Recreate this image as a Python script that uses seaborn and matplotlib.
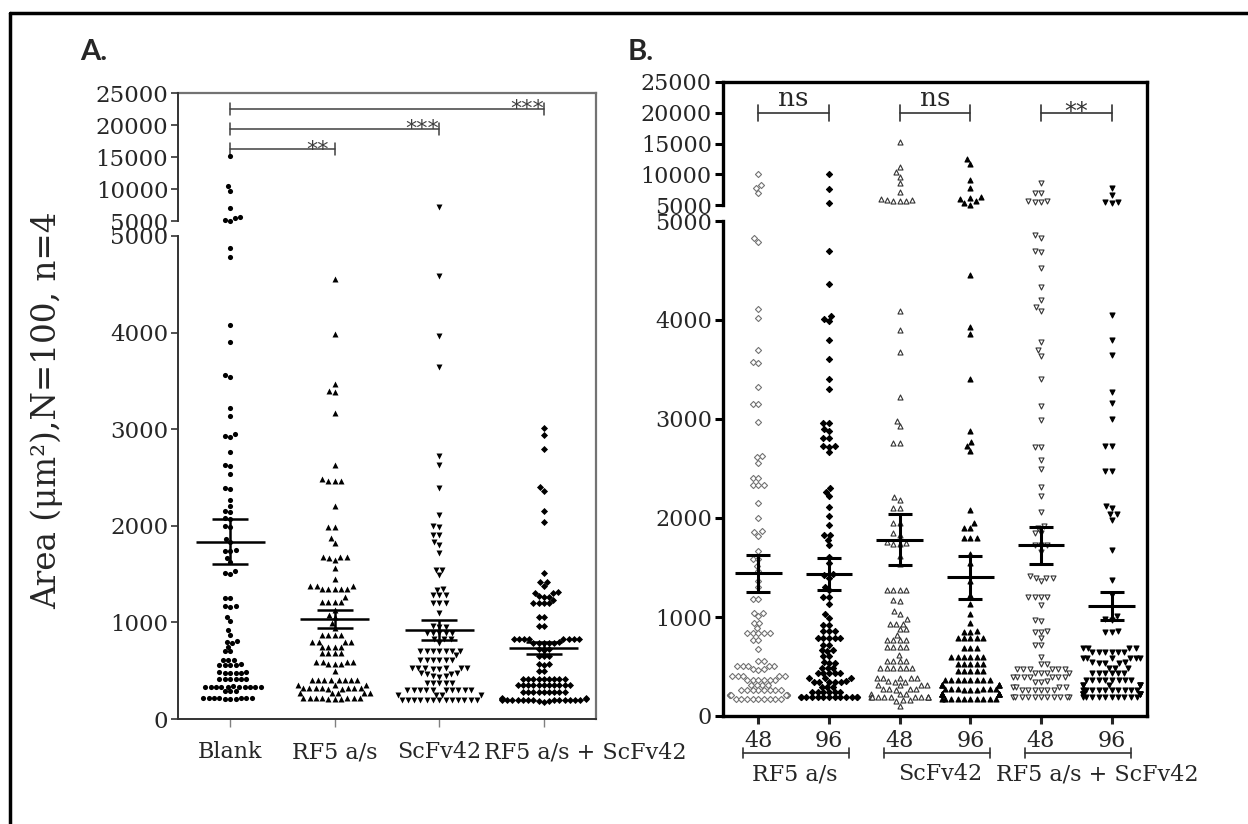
# Cell area scatter plots, panel A (treatments) and panel B (48 h vs 96 h)
import numpy as np
import pandas as pd
import matplotlib
matplotlib.use("Agg")
import matplotlib.pyplot as plt
import seaborn as sns
from matplotlib.lines import Line2D
from matplotlib.transforms import ScaledTranslation

sns.set_style("white")
plt.rcParams["font.family"] = ["DejaVu Serif", "Liberation Serif"]

# -------------------------------
# Panel A data
# -------------------------------
cats_a = ["Blank", "RF5 a/s", "ScFv42", "RF5 a/s + ScFv42"]

blank = [15100, 10400, 9700, 7000, 5600, 5500, 5200, 5050,
         4880, 4780, 4080, 3900, 3560, 3540, 3220, 3135, 2950, 2920, 2930, 2760,
         2630, 2620, 2540, 2390, 2380, 2270, 2205, 2150, 2140, 2080, 2075, 1995,
         1990, 1860, 1830, 1745, 1740, 1740, 1670, 1630, 1530, 1510, 1500, 1255,
         1250, 1165, 1165, 1160, 1060, 1015, 920, 870, 805, 800, 790, 750, 705,
         700, 615, 612, 610, 565, 562, 560, 560, 560, 485, 482, 480, 480, 478,
         475, 415, 415, 414, 414, 412, 410, 338, 336, 335, 335, 335, 335, 335,
         334, 333, 332, 330, 292, 290, 288, 218, 216, 215, 215, 214, 214, 213,
         212, 210, 208]

rf5 = [4550, 3990, 3470, 3400, 3390, 3165, 2630, 2480, 2465, 2465, 2460, 2200,
       1990, 1985, 1870, 1820, 1680, 1675, 1675, 1670, 1650, 1565, 1450, 1380,
       1378, 1375, 1348, 1346, 1346, 1345, 1344, 1265, 1215, 1214, 1213, 1212,
       1130, 1080, 1060, 995, 940, 870, 870, 870, 868, 800, 800, 800, 798, 750,
       748, 748, 746, 685, 683, 683, 680, 595, 593, 593, 590, 566, 566, 565,
       493, 405, 404, 404, 404, 403, 403, 402, 400, 355, 355, 353, 318, 318,
       317, 317, 317, 316, 316, 315, 315, 266, 265, 265, 264, 264, 215, 215,
       214, 214, 214, 213, 213, 212, 212, 210]

scfv = [7230, 4590, 3965, 3640, 2725, 2630, 2395, 2110, 2000, 1990, 1905, 1900,
        1830, 1800, 1715, 1545, 1540, 1490, 1345, 1340, 1285, 1284, 1282, 1205,
        1204, 1202, 1095, 958, 956, 955, 895, 894, 893, 892, 890, 826, 825, 824,
        790, 708, 708, 707, 707, 706, 706, 705, 660, 612, 611, 611, 610, 610,
        609, 525, 524, 524, 524, 523, 523, 522, 520, 472, 472, 471, 470, 440,
        440, 438, 370, 369, 369, 368, 368, 301, 301, 300, 300, 300, 300, 300,
        299, 299, 298, 248, 248, 247, 246, 198, 198, 197, 197, 197, 197, 197,
        196, 196, 196, 195, 195, 194]

combo = [3010, 2935, 2800, 2405, 2365, 2155, 2035, 1510, 1422, 1420, 1380, 1310,
         1308, 1306, 1270, 1268, 1266, 1230, 1200, 1198, 1198, 1196, 1060, 1056,
         966, 964, 830, 829, 828, 828, 827, 827, 826, 825, 792, 791, 790, 790,
         789, 788, 722, 720, 718, 652, 650, 648, 566, 565, 564, 502, 500, 415,
         415, 414, 414, 414, 413, 413, 412, 412, 353, 353, 352, 352, 352, 352,
         352, 351, 351, 351, 350, 277, 277, 276, 276, 276, 276, 275, 275, 275,
         220, 215, 210, 205, 200, 198, 198, 197, 197, 197, 197, 196, 196, 196,
         195, 195, 194, 190, 185, 180]

mean_a = [1835, 1035, 921, 736]
sem_a = [235, 92, 103, 64]

sig_a_end = [1, 2, 3]
sig_a_y = [16200, 19400, 22500]
sig_a_lab = ["**", "***", "***"]

# -------------------------------
# Panel B data
# -------------------------------
ticks_b = ["48", "96", "48", "96", "48", "96"]
groups_b = ["RF5 a/s", "ScFv42", "RF5 a/s + ScFv42"]

rf5_48 = [10000, 8200, 7800, 7000, 4825, 4790, 4110, 4025, 3700, 3575, 3570,
          3325, 3150, 3148, 2970, 2630, 2612, 2560, 2405, 2402, 2335, 2334, 2332,
          2155, 2005, 1865, 1862, 1822, 1665, 1585, 1583, 1515, 1463, 1360, 1305,
          1186, 1184, 1045, 1043, 1010, 940, 938, 888, 837, 836, 836, 835, 835,
          768, 766, 680, 558, 556, 506, 505, 505, 504, 504, 471, 470, 469, 409,
          408, 408, 407, 407, 367, 366, 366, 366, 365, 365, 314, 313, 313, 312,
          262, 262, 261, 261, 261, 261, 260, 260, 210, 210, 209, 209, 209, 209,
          208, 208, 175, 175, 174, 174, 174, 174, 174, 173, 173]

rf5_96 = [10000, 7600, 5380, 4700, 4360, 4040, 4010, 3990, 3800, 3605, 3405,
          3300, 2962, 2960, 2900, 2875, 2812, 2810, 2725, 2724, 2722, 2665, 2300,
          2265, 2220, 2115, 2020, 1933, 1830, 1828, 1777, 1724, 1603, 1543, 1430,
          1427, 1394, 1306, 1272, 1203, 1201, 1132, 1028, 993, 924, 922, 861, 860,
          859, 785, 785, 784, 784, 783, 715, 713, 663, 662, 661, 611, 609, 541,
          540, 539, 489, 488, 487, 436, 436, 435, 435, 434, 384, 383, 382, 349,
          348, 348, 348, 347, 347, 297, 296, 295, 245, 244, 244, 244, 243, 243,
          191, 191, 190, 190, 190, 190, 190, 189, 189, 189, 189, 188, 188]

scfv_48 = [15270, 11220, 10400, 9600, 8500, 7160, 5900, 5800, 5750, 5700, 5650,
           5600, 4095, 3900, 3675, 3225, 2980, 2925, 2760, 2758, 2212, 2178,
           2098, 2096, 1952, 1950, 1846, 1830, 1760, 1743, 1742, 1741, 1620, 1533,
           1273, 1272, 1272, 1271, 1168, 1166, 1063, 1028, 975, 931, 930, 929,
           879, 877, 819, 767, 766, 766, 765, 698, 697, 697, 696, 617, 558, 557,
           557, 556, 489, 488, 488, 488, 487, 487, 384, 383, 383, 383, 382, 349,
           348, 347, 314, 313, 313, 312, 269, 268, 268, 268, 267, 220, 219, 218,
           193, 193, 192, 192, 192, 192, 192, 191, 191, 191, 158, 157, 156, 105]

scfv_96 = [12400, 11600, 9000, 7800, 6250, 6200, 6000, 5600, 5300, 5050, 4450,
           3925, 3855, 3405, 2880, 2765, 2725, 2675, 2080, 1945, 1900, 1898, 1795,
           1794, 1793, 1637, 1550, 1360, 1220, 1132, 1028, 940, 854, 853, 852,
           785, 784, 784, 783, 783, 691, 690, 689, 593, 592, 592, 592, 591, 591,
           523, 522, 522, 521, 521, 454, 453, 453, 452, 452, 367, 367, 366, 366,
           366, 366, 365, 365, 314, 313, 313, 313, 312, 312, 269, 268, 268, 268,
           268, 268, 267, 267, 267, 220, 220, 219, 219, 219, 219, 219, 218, 218,
           218, 175, 175, 174, 174, 174, 174, 174, 173, 173, 173]

combo_48 = [8500, 6900, 6880, 5700, 5600, 5500, 5480, 4860, 4830, 4700, 4686,
            4530, 4330, 4200, 4128, 4094, 3780, 3693, 3641, 3407, 3130, 2986,
            2720, 2716, 2585, 2490, 2317, 2220, 2063, 1916, 1899, 1847, 1845,
            1726, 1725, 1724, 1655, 1411, 1395, 1394, 1393, 1359, 1203, 1202,
            1202, 1201, 1125, 966, 964, 854, 853, 852, 790, 715, 713, 592, 523,
            521, 478, 478, 477, 477, 476, 476, 436, 435, 435, 434, 395, 395, 394,
            394, 394, 393, 393, 349, 348, 347, 297, 296, 296, 295, 262, 262, 261,
            261, 261, 260, 193, 193, 192, 192, 192, 192, 192, 192, 191, 191, 191]

combo_96 = [7760, 6630, 5500, 5490, 5330, 4048, 3797, 3648, 3275, 3160, 2996,
            2725, 2723, 2475, 2473, 2125, 2100, 2045, 2040, 1980, 1679, 1376, 1219,
            1010, 976, 974, 854, 853, 852, 687, 686, 686, 685, 646, 646, 645, 645,
            644, 644, 583, 583, 582, 582, 581, 581, 541, 541, 540, 540, 539, 489,
            488, 487, 436, 436, 435, 435, 434, 434, 367, 367, 366, 366, 366, 366,
            365, 365, 314, 313, 313, 313, 312, 312, 262, 262, 261, 261, 261, 261,
            260, 260, 260, 260, 220, 220, 219, 219, 219, 219, 218, 218, 193, 193,
            192, 192, 192, 192, 191, 191, 191, 191]

mean_b = [1442, 1436, 1780, 1402, 1723, 1110]
sem_b = [185, 164, 258, 218, 183, 145]

sig_b_lab = ["ns", "ns", "**"]

# -------------------------------
# Figure and axes (broken y axes)
# -------------------------------
W, H = 1248, 824
fig = plt.figure(figsize=(W / 100, H / 100), dpi=100)


def box(l, t, r, b):
    return [l / W, 1 - b / H, (r - l) / W, (b - t) / H]


frame_a = fig.add_axes(box(178, 93, 596, 719), zorder=0)
ax_a_up = fig.add_axes(box(178, 93, 596, 221), zorder=1)
ax_a_lo = fig.add_axes(box(178, 236, 596, 719), zorder=1)
frame_b = fig.add_axes(box(723, 82, 1147, 716), zorder=0)
ax_b_up = fig.add_axes(box(723, 82, 1147, 205), zorder=1)
ax_b_lo = fig.add_axes(box(723, 221, 1147, 716), zorder=1)

for fr, col, lw in [(frame_a, "0.45", 1.6), (frame_b, "black", 2.4)]:
    fr.set_xticks([])
    fr.set_yticks([])
    fr.patch.set_alpha(0)
    fr.spines["left"].set_visible(False)
    fr.spines["bottom"].set_visible(False)
    for s in ["top", "right"]:
        fr.spines[s].set_color(col)
        fr.spines[s].set_linewidth(lw)

for ax in [ax_a_up, ax_a_lo, ax_b_up, ax_b_lo]:
    ax.patch.set_alpha(0)
    ax.spines["top"].set_visible(False)
    ax.spines["right"].set_visible(False)
ax_a_up.spines["bottom"].set_visible(False)
ax_b_up.spines["bottom"].set_visible(False)


def swarm(ax, values, order, pos, marker, face, edge, lw, size, upper):
    vals = [v for v in values if (v >= 5000) == upper]
    if not vals:
        return
    df = pd.DataFrame({"group": [order[pos]] * len(vals), "value": vals})
    sns.swarmplot(data=df, x="group", y="value", order=order, marker=marker,
                  color=face, edgecolor=edge, linewidth=lw, size=size,
                  ax=ax, clip_on=False, warn_thresh=1, zorder=3)


def stars(ax, x, y, lab, size, col):
    # asterisks sit just above the bracket line
    ax.annotate(lab, xy=(x, y), xytext=(0, -4.5), textcoords="offset points",
                ha="center", va="baseline", fontsize=size,
                family="DejaVu Sans", color=col)


# -------------------------------
# Panel A
# -------------------------------
series_a = [blank, rf5, scfv, combo]
markers_a = ["o", "^", "v", "D"]
sizes_a = [3.7, 4.3, 4.3, 3.6]
for i, vals in enumerate(series_a):
    for upper, ax in [(True, ax_a_up), (False, ax_a_lo)]:
        swarm(ax, vals, cats_a, i, markers_a[i], "black", "black", 0, sizes_a[i], upper)

for i, (m, s) in enumerate(zip(mean_a, sem_a)):
    ax_a_lo.hlines(m, i - 0.33, i + 0.33, color="black", lw=1.8, zorder=5)
    ax_a_lo.hlines([m - s, m + s], i - 0.17, i + 0.17, color="black", lw=1.8, zorder=5)
    ax_a_lo.vlines(i, m - s, m + s, color="black", lw=1.8, zorder=5)

for end, yv, lab in zip(sig_a_end, sig_a_y, sig_a_lab):
    ax_a_up.plot([0, end], [yv, yv], color="0.25", lw=1.1)
    ax_a_up.plot([0, 0], [yv - 950, yv + 950], color="0.25", lw=1.1)
    ax_a_up.plot([end, end], [yv - 950, yv + 950], color="0.25", lw=1.1)
    stars(ax_a_up, end - 0.16, yv, lab, 16, "0.25")

ax_a_up.set_ylim(5000, 25000)
ax_a_up.set_yticks([5000, 10000, 15000, 20000, 25000])
ax_a_lo.set_ylim(0, 5000)
ax_a_lo.set_yticks([0, 1000, 2000, 3000, 4000, 5000])
for ax in [ax_a_up, ax_a_lo]:
    ax.set_xlim(-0.5, 3.5)
    ax.set_xlabel("")
    ax.set_ylabel("")
    ax.tick_params(axis="y", direction="out", length=5, width=1.2, color="0.2",
                   labelsize=16.5, pad=2, left=True)
    ax.spines["left"].set_color("0.2")
    ax.spines["left"].set_linewidth(1.4)
ax_a_up.tick_params(axis="x", bottom=False, labelbottom=False)
ax_a_lo.tick_params(axis="x", direction="out", length=6, width=1, color="0.5",
                    labelsize=16, pad=10, bottom=True)
ax_a_lo.spines["bottom"].set_color("0.2")
ax_a_lo.spines["bottom"].set_linewidth(1.4)
last = ax_a_lo.get_xticklabels()[-1]
last.set_transform(last.get_transform() + ScaledTranslation(0.42, 0, fig.dpi_scale_trans))

fig.text(47 / W, 1 - 410 / H, "Area (μm²),N=100, n=4", rotation=90,
         ha="center", va="center", fontsize=23.5)
fig.text(80 / W, 1 - 52 / H, "A.", fontsize=21, fontweight="bold",
         family="Lato", ha="left", va="center")

# -------------------------------
# Panel B
# -------------------------------
series_b = [rf5_48, rf5_96, scfv_48, scfv_96, combo_48, combo_96]
markers_b = ["D", "D", "^", "^", "v", "v"]
faces_b = ["white", "black", "white", "black", "white", "black"]
edges_b = ["0.45", "black", "0.2", "black", "0.2", "black"]
sizes_b = [3.1, 3.1, 3.6, 3.6, 3.6, 3.6]
order_b = [f"{t}_{i}" for i, t in enumerate(ticks_b)]
for i, vals in enumerate(series_b):
    for upper, ax in [(True, ax_b_up), (False, ax_b_lo)]:
        swarm(ax, vals, order_b, i, markers_b[i], faces_b[i], edges_b[i], 0.8,
              sizes_b[i], upper)

for i, (m, s) in enumerate(zip(mean_b, sem_b)):
    ax_b_lo.hlines(m, i - 0.33, i + 0.33, color="black", lw=2.2, zorder=5)
    ax_b_lo.hlines([m - s, m + s], i - 0.17, i + 0.17, color="black", lw=2.2, zorder=5)
    ax_b_lo.vlines(i, m - s, m + s, color="black", lw=2.2, zorder=5)

for k, lab in enumerate(sig_b_lab):
    x0, x1 = 2 * k, 2 * k + 1
    ax_b_up.plot([x0, x1], [20000, 20000], color="0.2", lw=1.2)
    ax_b_up.plot([x0, x0], [18700, 21300], color="0.2", lw=1.2)
    ax_b_up.plot([x1, x1], [18700, 21300], color="0.2", lw=1.2)
    if lab == "ns":
        ax_b_up.annotate(lab, xy=(x0 + 0.5, 20000), xytext=(0, 5),
                         textcoords="offset points", ha="center", va="baseline",
                         fontsize=19)
    else:
        stars(ax_b_up, x0 + 0.5, 20000, lab, 17, "0.2")

ax_b_up.set_ylim(5000, 25000)
ax_b_up.set_yticks([5000, 10000, 15000, 20000, 25000])
ax_b_lo.set_ylim(0, 5000)
ax_b_lo.set_yticks([0, 1000, 2000, 3000, 4000, 5000])
for ax in [ax_b_up, ax_b_lo]:
    ax.set_xlim(-0.5, 5.5)
    ax.set_xlabel("")
    ax.set_ylabel("")
    ax.tick_params(axis="y", direction="out", length=6, width=2.2, color="black",
                   labelsize=16, pad=2, left=True)
    ax.spines["left"].set_color("black")
    ax.spines["left"].set_linewidth(2.4)
ax_b_up.tick_params(axis="x", bottom=False, labelbottom=False)
ax_b_lo.tick_params(axis="x", direction="out", length=6, width=2.2,
                    labelsize=16, pad=4, bottom=True)
ax_b_lo.set_xticks(range(len(ticks_b)))
ax_b_lo.set_xticklabels(ticks_b)
ax_b_lo.spines["bottom"].set_color("black")
ax_b_lo.spines["bottom"].set_linewidth(2.4)

trans = ax_b_lo.get_xaxis_transform()
label_x = [0.52, 2.57, 4.8]
for k, g in enumerate(groups_b):
    x0, x1 = 2 * k - 0.22, 2 * k + 1.28
    ax_b_lo.plot([x0, x1], [-0.075, -0.075], transform=trans, clip_on=False,
                 color="0.2", lw=1.2)
    for xe in [x0, x1]:
        ax_b_lo.plot([xe, xe], [-0.065, -0.085], transform=trans, clip_on=False,
                     color="0.2", lw=1.2)
    ax_b_lo.text(label_x[k], -0.118, g, transform=trans, ha="center", va="center",
                 fontsize=16)

fig.text(628 / W, 1 - 52 / H, "B.", fontsize=21, fontweight="bold",
         family="Lato", ha="left", va="center")

# outer frame lines (top and left)
fig.add_artist(Line2D([10 / W, 10 / W], [0, 1 - 13 / H], transform=fig.transFigure,
                      color="black", lw=2.5))
fig.add_artist(Line2D([10 / W, 1], [1 - 13 / H, 1 - 13 / H], transform=fig.transFigure,
                      color="black", lw=2.5))

fig.savefig("out.png", dpi=100)
